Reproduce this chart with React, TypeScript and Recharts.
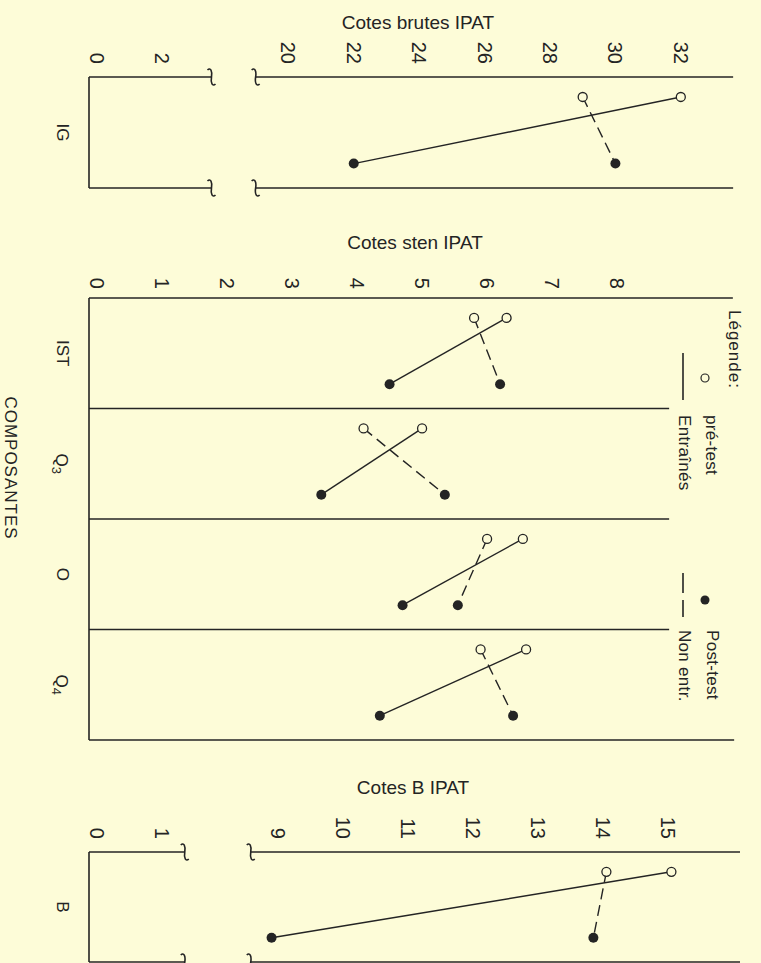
import { ScatterChart, Scatter, XAxis, YAxis, ReferenceLine, ReferenceDot, Legend, Label } from "recharts";

const INK = "#242424";
const PAPER = "#fdfcd8";
const FONT = "'Liberation Sans', Arial, Helvetica, sans-serif";
const PRE = 0.18; // position of pre-test point inside a category band
const POST = 0.78; // position of post-test point

// Cotes brutes IPAT
const igCategories = ["IG"];
const igTicks = [0, 2, 20, 22, 24, 26, 28, 30, 32];
const igTrainedPre = [32];
const igTrainedPost = [22];
const igControlPre = [29];
const igControlPost = [30];

// Cotes sten IPAT
const stenCategories = ["IST", "Q3", "O", "Q4"];
const stenTicks = [0, 1, 2, 3, 4, 5, 6, 7, 8];
const stenTrainedPre = [6.3, 5.0, 6.55, 6.6];
const stenTrainedPost = [4.5, 3.45, 4.7, 4.35];
const stenControlPre = [5.8, 4.1, 6.0, 5.9];
const stenControlPost = [6.2, 5.35, 5.55, 6.4];

// Cotes B IPAT
const bCategories = ["B"];
const bTicks = [0, 1, 9, 10, 11, 12, 13, 14, 15];
const bTrainedPre = [15.05];
const bTrainedPost = [8.9];
const bControlPre = [14.05];
const bControlPost = [13.85];

type Stage = "pre" | "post";
interface Point {
  x: number;
  y: number;
  stage: Stage;
}
interface Seg {
  x1: number;
  y1: number;
  x2: number;
  y2: number;
}

// broken axis: values above lowEnd are shifted down by `shift`
const breakAxis = (lowEnd: number, shift: number) => ({
  toPos: (v: number) => (v > lowEnd ? v - shift : v),
  fromPos: (p: number) => (p > lowEnd ? p + shift : p),
});
const plainAxis = { toPos: (v: number) => v, fromPos: (p: number) => p };

const igAxis = breakAxis(3.5, 14.15);
const bAxis = breakAxis(1.4, 6.215);

const Marker = (props: any) => {
  const { cx, cy, payload } = props;
  if (cx == null || cy == null) return null;
  if (payload.stage === "pre") {
    return <circle cx={cx} cy={cy} r={4.5} fill={PAPER} stroke={INK} strokeWidth={1.3} />;
  }
  return <circle cx={cx} cy={cy} r={5} fill={INK} />;
};

const Squiggle = (props: any) => {
  const { cx, cy } = props;
  const d = `M ${cx - 4} ${cy - 7} C ${cx - 1} ${cy - 10} ${cx + 1} ${cy - 6} ${cx} ${cy} C ${cx - 1} ${cy + 6} ${cx + 1} ${cy + 10} ${cx + 4} ${cy + 7}`;
  return <path d={d} fill="none" stroke={INK} strokeWidth={1.6} />;
};

const ValueTick = (props: any) => {
  const { x, y, payload, fromPos } = props;
  return (
    <text
      x={x}
      y={y}
      transform={`rotate(90 ${x} ${y})`}
      textAnchor="end"
      dominantBaseline="central"
      fontSize={20}
      fontFamily={FONT}
      fill={INK}
    >
      {Math.round(fromPos(payload.value))}
    </text>
  );
};

const CategoryTick = (props: any) => {
  const { x, y, payload, categories } = props;
  const label: string = categories[Math.floor(payload.value)] ?? "";
  const m = /^Q(\d)$/.exec(label);
  return (
    <text
      x={x}
      y={y}
      transform={`rotate(90 ${x} ${y})`}
      textAnchor="middle"
      dominantBaseline="central"
      fontSize={17}
      fontFamily={FONT}
      fill={INK}
    >
      {m ? (
        <>
          <tspan>Q</tspan>
          <tspan dy={5} fontSize={13}>
            {m[1]}
          </tspan>
        </>
      ) : (
        label
      )}
    </text>
  );
};

const StudyLegend = () => {
  const txt = (x: number, y: number, s: string, size = 17, spacing = 0.3) => (
    <text
      x={x}
      y={y}
      transform={`rotate(90 ${x} ${y})`}
      dominantBaseline="central"
      fontSize={size}
      letterSpacing={spacing}
      fontFamily={FONT}
      fill={INK}
    >
      {s}
    </text>
  );
  return (
    <svg width={121} height={450}>
      {txt(94, 10, "Légende:", 17, 1)}
      <circle cx={65} cy={78} r={4} fill={PAPER} stroke={INK} strokeWidth={1.2} />
      <line x1={43} y1={53} x2={43} y2={100} stroke={INK} strokeWidth={1.6} />
      {txt(71, 115, "pré-test")}
      {txt(44, 115, "Entraînés")}
      <circle cx={65} cy={300} r={4.5} fill={INK} />
      <line x1={43} y1={273} x2={43} y2={317} stroke={INK} strokeWidth={1.6} strokeDasharray="20 7" />
      {txt(72, 330, "Post-test")}
      {txt(44, 330, "Non entr.")}
    </svg>
  );
};

interface PanelProps {
  height: number;
  axisHeight: number;
  bottomGap: number;
  tickGap: number;
  categories: string[];
  ticks: number[];
  trainedPre: number[];
  trainedPost: number[];
  controlPre: number[];
  controlPost: number[];
  domain: [number, number];
  axis: { toPos: (v: number) => number; fromPos: (p: number) => number };
  title: string;
  titleX: number;
  titleY: number;
  frame: Seg[];
  squiggles: { x: number; y: number }[];
  sideLabel?: boolean;
  legend?: boolean;
}

function Panel(p: PanelProps) {
  const { toPos, fromPos } = p.axis;
  const n = p.categories.length;
  const pair = (pre: number[], post: number[], i: number): Point[] => [
    { x: toPos(pre[i]), y: i + PRE, stage: "pre" },
    { x: toPos(post[i]), y: i + POST, stage: "post" },
  ];

  return (
    <ScatterChart
      width={761}
      height={p.height}
      margin={{ top: 0, right: 21, bottom: p.bottomGap, left: 0 }}
    >
      <XAxis
        type="number"
        dataKey="x"
        orientation="top"
        domain={p.domain}
        allowDataOverflow
        ticks={p.ticks.map(toPos)}
        interval={0}
        height={p.axisHeight}
        axisLine={false}
        tickLine={false}
        tickSize={0}
        tickMargin={p.tickGap}
        tick={(t: any) => <ValueTick {...t} fromPos={fromPos} />}
      >
        <Label
          content={() => (
            <text
              x={p.titleX}
              y={p.titleY}
              textAnchor="middle"
              dominantBaseline="central"
              fontSize={19}
              fontFamily={FONT}
              fill={INK}
            >
              {p.title}
            </text>
          )}
        />
      </XAxis>
      <YAxis
        type="number"
        dataKey="y"
        domain={[0, n]}
        reversed
        allowDataOverflow
        ticks={p.categories.map((_, i) => i + 0.5)}
        interval={0}
        width={89}
        axisLine={false}
        tickLine={false}
        tickSize={0}
        tickMargin={27}
        tick={(t: any) => <CategoryTick {...t} categories={p.categories} />}
      >
        {p.sideLabel && (
          <Label
            content={() => (
              <text
                x={10}
                y={243}
                transform="rotate(90 10 243)"
                textAnchor="middle"
                dominantBaseline="central"
                fontSize={17}
                letterSpacing={1}
                fontFamily={FONT}
                fill={INK}
              >
                COMPOSANTES
              </text>
            )}
          />
        )}
      </YAxis>
      {p.frame.map((s, i) => (
        <ReferenceLine
          key={`f${i}`}
          segment={[
            { x: s.x1, y: s.y1 },
            { x: s.x2, y: s.y2 },
          ]}
          stroke={INK}
          strokeWidth={1.6}
          ifOverflow="visible"
        />
      ))}
      {p.squiggles.map((s, i) => (
        <ReferenceDot
          key={`s${i}`}
          x={s.x}
          y={s.y}
          ifOverflow="visible"
          shape={(props: any) => <Squiggle {...props} />}
        />
      ))}
      {p.categories.flatMap((c, i) => [
        <Scatter
          key={`${c}-trained`}
          name={`${c} entraînés`}
          data={pair(p.trainedPre, p.trainedPost, i)}
          line={{ stroke: INK, strokeWidth: 1.4 }}
          lineType="joint"
          shape={Marker}
          fill={INK}
          isAnimationActive={false}
        />,
        <Scatter
          key={`${c}-control`}
          name={`${c} non entr.`}
          data={pair(p.controlPre, p.controlPost, i)}
          line={{ stroke: INK, strokeWidth: 1.4, strokeDasharray: "11 6" }}
          lineType="joint"
          shape={Marker}
          fill={INK}
          isAnimationActive={false}
        />,
      ])}
      {p.legend && (
        <Legend
          layout="horizontal"
          verticalAlign="middle"
          align="center"
          content={() => <StudyLegend />}
          wrapperStyle={{ left: 640, top: 75, width: 121, height: 450 }}
        />
      )}
    </ScatterChart>
  );
}

const boxWithBreak = (dMin: number, lowEnd: number, highStart: number, end: number): Seg[] => [
  { x1: dMin, y1: 0, x2: dMin, y2: 1 },
  { x1: dMin, y1: 0, x2: lowEnd, y2: 0 },
  { x1: highStart, y1: 0, x2: end, y2: 0 },
  { x1: dMin, y1: 1, x2: lowEnd, y2: 1 },
  { x1: highStart, y1: 1, x2: end, y2: 1 },
];

export default function App() {
  const igDomain: [number, number] = [-0.245, 19.66];
  const stenDomain: [number, number] = [-0.123, 9.89];
  const bDomain: [number, number] = [-0.123, 9.89];

  return (
    <div
      style={{
        position: "fixed",
        left: 0,
        top: 0,
        width: 761,
        height: 963,
        background: PAPER,
        overflow: "hidden",
        fontFamily: FONT,
      }}
    >
      <div style={{ position: "absolute", left: 0, top: 0 }}>
        <Panel
          height={200}
          axisHeight={77}
          bottomGap={12}
          tickGap={13}
          categories={igCategories}
          ticks={igTicks}
          trainedPre={igTrainedPre}
          trainedPost={igTrainedPost}
          controlPre={igControlPre}
          controlPost={igControlPost}
          domain={igDomain}
          axis={igAxis}
          title="Cotes brutes IPAT"
          titleX={418}
          titleY={22}
          frame={boxWithBreak(igDomain[0], 3.5, igAxis.toPos(19), 19.45)}
          squiggles={[
            { x: 3.5, y: 0 },
            { x: igAxis.toPos(19), y: 0 },
            { x: 3.5, y: 1 },
            { x: igAxis.toPos(19), y: 1 },
          ]}
        />
      </div>
      <div style={{ position: "absolute", left: 0, top: 225 }}>
        <Panel
          height={525}
          axisHeight={73}
          bottomGap={10}
          tickGap={9}
          categories={stenCategories}
          ticks={stenTicks}
          trainedPre={stenTrainedPre}
          trainedPost={stenTrainedPost}
          controlPre={stenControlPre}
          controlPost={stenControlPost}
          domain={stenDomain}
          axis={plainAxis}
          title="Cotes sten IPAT"
          titleX={415}
          titleY={17}
          frame={[
            { x1: stenDomain[0], y1: 0, x2: stenDomain[0], y2: 4 },
            { x1: stenDomain[0], y1: 0, x2: 9.78, y2: 0 },
            { x1: stenDomain[0], y1: 1, x2: 8.8, y2: 1 },
            { x1: stenDomain[0], y1: 2, x2: 8.8, y2: 2 },
            { x1: stenDomain[0], y1: 3, x2: 8.8, y2: 3 },
            { x1: stenDomain[0], y1: 4, x2: 9.8, y2: 4 },
          ]}
          squiggles={[]}
          sideLabel
          legend
        />
      </div>
      <div style={{ position: "absolute", left: 0, top: 760 }}>
        <Panel
          height={203}
          axisHeight={92}
          bottomGap={1}
          tickGap={13}
          categories={bCategories}
          ticks={bTicks}
          trainedPre={bTrainedPre}
          trainedPost={bTrainedPost}
          controlPre={bControlPre}
          controlPost={bControlPost}
          domain={bDomain}
          axis={bAxis}
          title="Cotes B IPAT"
          titleX={413}
          titleY={27}
          frame={boxWithBreak(bDomain[0], 1.35, bAxis.toPos(8.58), bDomain[1])}
          squiggles={[
            { x: 1.35, y: 0 },
            { x: bAxis.toPos(8.58), y: 0 },
            { x: 1.35, y: 1 },
            { x: bAxis.toPos(8.58), y: 1 },
          ]}
        />
      </div>
    </div>
  );
}
